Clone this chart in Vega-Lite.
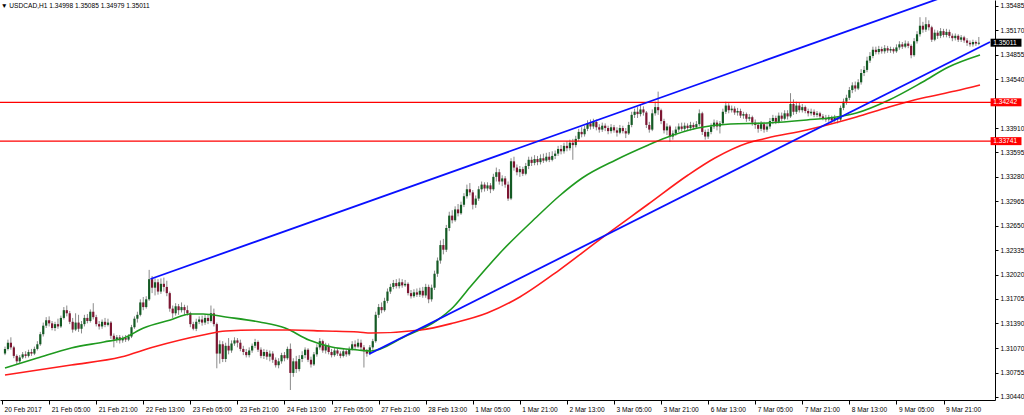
{
"$schema": "https://vega.github.io/schema/vega-lite/v6.json",
"width": 995,
"height": 400,
"autosize": {"type": "none"},
"padding": {"left": 0, "top": 0, "right": 29, "bottom": 15},
"background": "white",
"config": {"view": {"stroke": null}, "font": "Liberation Sans", "axis": {"labelOverlap": false, "labelFlush": false}},
"title": {"text": "▼ USDCAD,H1  1.34998 1.35085 1.34979 1.35011", "anchor": "start", "frame": "group", "orient": "top", "offset": 0, "baseline": "top", "dy": 10, "dx": 1, "fontSize": 6.6, "fontWeight": "normal", "color": "#000000", "font": "Liberation Sans"},
"datasets": {
"bars": [
{"i":1,"o":1.3100,"h":1.3109,"l":1.3098,"c":1.3106},
{"i":2,"o":1.3106,"h":1.3118,"l":1.3104,"c":1.3114},
{"i":3,"o":1.3114,"h":1.3121,"l":1.3105,"c":1.3108},
{"i":4,"o":1.3108,"h":1.3110,"l":1.3094,"c":1.3097},
{"i":5,"o":1.3097,"h":1.3099,"l":1.3086,"c":1.3090},
{"i":6,"o":1.3090,"h":1.3098,"l":1.3087,"c":1.3095},
{"i":7,"o":1.3095,"h":1.3102,"l":1.3093,"c":1.3099},
{"i":8,"o":1.3099,"h":1.3103,"l":1.3094,"c":1.3097},
{"i":9,"o":1.3097,"h":1.3105,"l":1.3095,"c":1.3102},
{"i":10,"o":1.3102,"h":1.3106,"l":1.3097,"c":1.3100},
{"i":11,"o":1.3100,"h":1.3109,"l":1.3098,"c":1.3106},
{"i":12,"o":1.3106,"h":1.3116,"l":1.3104,"c":1.3112},
{"i":13,"o":1.3112,"h":1.3128,"l":1.3110,"c":1.3125},
{"i":14,"o":1.3125,"h":1.3140,"l":1.3122,"c":1.3136},
{"i":15,"o":1.3136,"h":1.3147,"l":1.3133,"c":1.3143},
{"i":16,"o":1.3143,"h":1.3148,"l":1.3135,"c":1.3139},
{"i":17,"o":1.3139,"h":1.3142,"l":1.3130,"c":1.3133},
{"i":18,"o":1.3133,"h":1.3141,"l":1.3129,"c":1.3138},
{"i":19,"o":1.3138,"h":1.3145,"l":1.3132,"c":1.3135},
{"i":20,"o":1.3135,"h":1.3149,"l":1.3133,"c":1.3146},
{"i":21,"o":1.3146,"h":1.3160,"l":1.3144,"c":1.3156},
{"i":22,"o":1.3156,"h":1.3162,"l":1.3148,"c":1.3152},
{"i":23,"o":1.3152,"h":1.3155,"l":1.3138,"c":1.3141},
{"i":24,"o":1.3141,"h":1.3146,"l":1.3127,"c":1.3131},
{"i":25,"o":1.3131,"h":1.3152,"l":1.3129,"c":1.3140},
{"i":26,"o":1.3140,"h":1.3150,"l":1.3128,"c":1.3132},
{"i":27,"o":1.3132,"h":1.3142,"l":1.3126,"c":1.3138},
{"i":28,"o":1.3138,"h":1.3150,"l":1.3135,"c":1.3146},
{"i":29,"o":1.3146,"h":1.3151,"l":1.3139,"c":1.3142},
{"i":30,"o":1.3142,"h":1.3157,"l":1.3140,"c":1.3154},
{"i":31,"o":1.3154,"h":1.3165,"l":1.3144,"c":1.3147},
{"i":32,"o":1.3147,"h":1.3150,"l":1.3135,"c":1.3138},
{"i":33,"o":1.3138,"h":1.3142,"l":1.3131,"c":1.3135},
{"i":34,"o":1.3135,"h":1.3144,"l":1.3132,"c":1.3141},
{"i":35,"o":1.3141,"h":1.3146,"l":1.3134,"c":1.3137},
{"i":36,"o":1.3137,"h":1.3145,"l":1.3135,"c":1.3140},
{"i":37,"o":1.3140,"h":1.3142,"l":1.3119,"c":1.3123},
{"i":38,"o":1.3123,"h":1.3126,"l":1.3108,"c":1.3118},
{"i":39,"o":1.3118,"h":1.3124,"l":1.3114,"c":1.3121},
{"i":40,"o":1.3121,"h":1.3124,"l":1.3113,"c":1.3117},
{"i":41,"o":1.3117,"h":1.3123,"l":1.3114,"c":1.3120},
{"i":42,"o":1.3120,"h":1.3124,"l":1.3115,"c":1.3118},
{"i":43,"o":1.3118,"h":1.3125,"l":1.3116,"c":1.3122},
{"i":44,"o":1.3122,"h":1.3137,"l":1.3120,"c":1.3134},
{"i":45,"o":1.3134,"h":1.3148,"l":1.3132,"c":1.3145},
{"i":46,"o":1.3145,"h":1.3154,"l":1.3140,"c":1.3150},
{"i":47,"o":1.3150,"h":1.3170,"l":1.3148,"c":1.3166},
{"i":48,"o":1.3166,"h":1.3173,"l":1.3156,"c":1.3160},
{"i":49,"o":1.3160,"h":1.3174,"l":1.3158,"c":1.3170},
{"i":50,"o":1.3170,"h":1.3208,"l":1.3168,"c":1.3196},
{"i":51,"o":1.3196,"h":1.3200,"l":1.3178,"c":1.3185},
{"i":52,"o":1.3185,"h":1.3197,"l":1.3175,"c":1.3192},
{"i":53,"o":1.3192,"h":1.3196,"l":1.3176,"c":1.3180},
{"i":54,"o":1.3180,"h":1.3197,"l":1.3177,"c":1.3190},
{"i":55,"o":1.3190,"h":1.3198,"l":1.3180,"c":1.3186},
{"i":56,"o":1.3186,"h":1.3194,"l":1.3174,"c":1.3178},
{"i":57,"o":1.3178,"h":1.3180,"l":1.3154,"c":1.3158},
{"i":58,"o":1.3158,"h":1.3162,"l":1.3146,"c":1.3152},
{"i":59,"o":1.3152,"h":1.3165,"l":1.3149,"c":1.3161},
{"i":60,"o":1.3161,"h":1.3164,"l":1.3150,"c":1.3156},
{"i":61,"o":1.3156,"h":1.3166,"l":1.3153,"c":1.3160},
{"i":62,"o":1.3160,"h":1.3163,"l":1.3150,"c":1.3156},
{"i":63,"o":1.3156,"h":1.3162,"l":1.3149,"c":1.3152},
{"i":64,"o":1.3152,"h":1.3154,"l":1.3134,"c":1.3138},
{"i":65,"o":1.3138,"h":1.3141,"l":1.3130,"c":1.3132},
{"i":66,"o":1.3132,"h":1.3145,"l":1.3129,"c":1.3141},
{"i":67,"o":1.3141,"h":1.3148,"l":1.3138,"c":1.3144},
{"i":68,"o":1.3144,"h":1.3149,"l":1.3136,"c":1.3140},
{"i":69,"o":1.3140,"h":1.3150,"l":1.3137,"c":1.3146},
{"i":70,"o":1.3146,"h":1.3151,"l":1.3138,"c":1.3142},
{"i":71,"o":1.3142,"h":1.3162,"l":1.3140,"c":1.3152},
{"i":72,"o":1.3152,"h":1.3158,"l":1.3135,"c":1.3138},
{"i":73,"o":1.3138,"h":1.3140,"l":1.3081,"c":1.3100},
{"i":74,"o":1.3100,"h":1.3117,"l":1.3087,"c":1.3112},
{"i":75,"o":1.3112,"h":1.3116,"l":1.3089,"c":1.3093},
{"i":76,"o":1.3093,"h":1.3114,"l":1.3089,"c":1.3110},
{"i":77,"o":1.3110,"h":1.3120,"l":1.3099,"c":1.3104},
{"i":78,"o":1.3104,"h":1.3117,"l":1.3101,"c":1.3113},
{"i":79,"o":1.3113,"h":1.3121,"l":1.3110,"c":1.3117},
{"i":80,"o":1.3117,"h":1.3120,"l":1.3108,"c":1.3114},
{"i":81,"o":1.3114,"h":1.3118,"l":1.3103,"c":1.3106},
{"i":82,"o":1.3106,"h":1.3110,"l":1.3098,"c":1.3102},
{"i":83,"o":1.3102,"h":1.3106,"l":1.3095,"c":1.3098},
{"i":84,"o":1.3098,"h":1.3108,"l":1.3095,"c":1.3104},
{"i":85,"o":1.3104,"h":1.3113,"l":1.3101,"c":1.3110},
{"i":86,"o":1.3110,"h":1.3119,"l":1.3107,"c":1.3115},
{"i":87,"o":1.3115,"h":1.3117,"l":1.3102,"c":1.3105},
{"i":88,"o":1.3105,"h":1.3108,"l":1.3094,"c":1.3097},
{"i":89,"o":1.3097,"h":1.3106,"l":1.3093,"c":1.3102},
{"i":90,"o":1.3102,"h":1.3105,"l":1.3092,"c":1.3096},
{"i":91,"o":1.3096,"h":1.3104,"l":1.3090,"c":1.3100},
{"i":92,"o":1.3100,"h":1.3103,"l":1.3088,"c":1.3092},
{"i":93,"o":1.3092,"h":1.3095,"l":1.3082,"c":1.3085},
{"i":94,"o":1.3085,"h":1.3094,"l":1.3081,"c":1.3090},
{"i":95,"o":1.3090,"h":1.3101,"l":1.3087,"c":1.3098},
{"i":96,"o":1.3098,"h":1.3102,"l":1.3090,"c":1.3094},
{"i":97,"o":1.3094,"h":1.3109,"l":1.3092,"c":1.3106},
{"i":98,"o":1.3106,"h":1.3113,"l":1.3053,"c":1.3075},
{"i":99,"o":1.3075,"h":1.3094,"l":1.3070,"c":1.3090},
{"i":100,"o":1.3090,"h":1.3097,"l":1.3075,"c":1.3080},
{"i":101,"o":1.3080,"h":1.3098,"l":1.3077,"c":1.3093},
{"i":102,"o":1.3093,"h":1.3103,"l":1.3089,"c":1.3098},
{"i":103,"o":1.3098,"h":1.3108,"l":1.3094,"c":1.3105},
{"i":104,"o":1.3105,"h":1.3107,"l":1.3089,"c":1.3092},
{"i":105,"o":1.3092,"h":1.3096,"l":1.3082,"c":1.3086},
{"i":106,"o":1.3086,"h":1.3102,"l":1.3084,"c":1.3099},
{"i":107,"o":1.3099,"h":1.3112,"l":1.3096,"c":1.3108},
{"i":108,"o":1.3108,"h":1.3120,"l":1.3105,"c":1.3116},
{"i":109,"o":1.3116,"h":1.3118,"l":1.3101,"c":1.3104},
{"i":110,"o":1.3104,"h":1.3114,"l":1.3100,"c":1.3110},
{"i":111,"o":1.3110,"h":1.3113,"l":1.3099,"c":1.3102},
{"i":112,"o":1.3102,"h":1.3106,"l":1.3095,"c":1.3098},
{"i":113,"o":1.3098,"h":1.3107,"l":1.3096,"c":1.3104},
{"i":114,"o":1.3104,"h":1.3107,"l":1.3097,"c":1.3100},
{"i":115,"o":1.3100,"h":1.3103,"l":1.3094,"c":1.3097},
{"i":116,"o":1.3097,"h":1.3106,"l":1.3095,"c":1.3103},
{"i":117,"o":1.3103,"h":1.3106,"l":1.3096,"c":1.3099},
{"i":118,"o":1.3099,"h":1.3109,"l":1.3097,"c":1.3106},
{"i":119,"o":1.3106,"h":1.3116,"l":1.3104,"c":1.3112},
{"i":120,"o":1.3112,"h":1.3117,"l":1.3106,"c":1.3109},
{"i":121,"o":1.3109,"h":1.3119,"l":1.3107,"c":1.3114},
{"i":122,"o":1.3114,"h":1.3118,"l":1.3104,"c":1.3108},
{"i":123,"o":1.3108,"h":1.3111,"l":1.3082,"c":1.3103},
{"i":124,"o":1.3103,"h":1.3106,"l":1.3096,"c":1.3100},
{"i":125,"o":1.3100,"h":1.3111,"l":1.3098,"c":1.3108},
{"i":126,"o":1.3108,"h":1.3119,"l":1.3105,"c":1.3116},
{"i":127,"o":1.3116,"h":1.3154,"l":1.3114,"c":1.3150},
{"i":128,"o":1.3150,"h":1.3164,"l":1.3146,"c":1.3160},
{"i":129,"o":1.3160,"h":1.3166,"l":1.3152,"c":1.3156},
{"i":130,"o":1.3156,"h":1.3172,"l":1.3154,"c":1.3168},
{"i":131,"o":1.3168,"h":1.3184,"l":1.3165,"c":1.3180},
{"i":132,"o":1.3180,"h":1.3190,"l":1.3177,"c":1.3186},
{"i":133,"o":1.3186,"h":1.3195,"l":1.3183,"c":1.3191},
{"i":134,"o":1.3191,"h":1.3196,"l":1.3184,"c":1.3187},
{"i":135,"o":1.3187,"h":1.3197,"l":1.3184,"c":1.3192},
{"i":136,"o":1.3192,"h":1.3196,"l":1.3185,"c":1.3188},
{"i":137,"o":1.3188,"h":1.3195,"l":1.3186,"c":1.3190},
{"i":138,"o":1.3190,"h":1.3192,"l":1.3175,"c":1.3178},
{"i":139,"o":1.3178,"h":1.3182,"l":1.3171,"c":1.3174},
{"i":140,"o":1.3174,"h":1.3183,"l":1.3172,"c":1.3179},
{"i":141,"o":1.3179,"h":1.3184,"l":1.3173,"c":1.3176},
{"i":142,"o":1.3176,"h":1.3185,"l":1.3173,"c":1.3181},
{"i":143,"o":1.3181,"h":1.3186,"l":1.3172,"c":1.3175},
{"i":144,"o":1.3175,"h":1.3190,"l":1.3172,"c":1.3186},
{"i":145,"o":1.3186,"h":1.3189,"l":1.3165,"c":1.3170},
{"i":146,"o":1.3170,"h":1.3189,"l":1.3167,"c":1.3185},
{"i":147,"o":1.3185,"h":1.3207,"l":1.3182,"c":1.3203},
{"i":148,"o":1.3203,"h":1.3224,"l":1.3199,"c":1.3220},
{"i":149,"o":1.3220,"h":1.3246,"l":1.3216,"c":1.3240},
{"i":150,"o":1.3240,"h":1.3248,"l":1.3228,"c":1.3234},
{"i":151,"o":1.3234,"h":1.3266,"l":1.3231,"c":1.3262},
{"i":152,"o":1.3262,"h":1.3283,"l":1.3258,"c":1.3278},
{"i":153,"o":1.3278,"h":1.3285,"l":1.3268,"c":1.3272},
{"i":154,"o":1.3272,"h":1.3290,"l":1.3270,"c":1.3286},
{"i":155,"o":1.3286,"h":1.3293,"l":1.3277,"c":1.3281},
{"i":156,"o":1.3281,"h":1.3296,"l":1.3279,"c":1.3292},
{"i":157,"o":1.3292,"h":1.3307,"l":1.3289,"c":1.3303},
{"i":158,"o":1.3303,"h":1.3318,"l":1.3300,"c":1.3312},
{"i":159,"o":1.3312,"h":1.3320,"l":1.3304,"c":1.3308},
{"i":160,"o":1.3308,"h":1.3311,"l":1.3286,"c":1.3292},
{"i":161,"o":1.3292,"h":1.3304,"l":1.3288,"c":1.3300},
{"i":162,"o":1.3300,"h":1.3316,"l":1.3297,"c":1.3312},
{"i":163,"o":1.3312,"h":1.3322,"l":1.3308,"c":1.3318},
{"i":164,"o":1.3318,"h":1.3321,"l":1.3309,"c":1.3313},
{"i":165,"o":1.3313,"h":1.3321,"l":1.3310,"c":1.3317},
{"i":166,"o":1.3317,"h":1.3320,"l":1.3307,"c":1.3312},
{"i":167,"o":1.3312,"h":1.3332,"l":1.3310,"c":1.3328},
{"i":168,"o":1.3328,"h":1.3340,"l":1.3322,"c":1.3334},
{"i":169,"o":1.3334,"h":1.3338,"l":1.3318,"c":1.3322},
{"i":170,"o":1.3322,"h":1.3330,"l":1.3316,"c":1.3326},
{"i":171,"o":1.3326,"h":1.3329,"l":1.3314,"c":1.3318},
{"i":172,"o":1.3318,"h":1.3322,"l":1.3297,"c":1.3300},
{"i":173,"o":1.3300,"h":1.3352,"l":1.3298,"c":1.3348},
{"i":174,"o":1.3348,"h":1.3354,"l":1.3336,"c":1.3340},
{"i":175,"o":1.3340,"h":1.3344,"l":1.3330,"c":1.3334},
{"i":176,"o":1.3334,"h":1.3342,"l":1.3328,"c":1.3338},
{"i":177,"o":1.3338,"h":1.3341,"l":1.3329,"c":1.3332},
{"i":178,"o":1.3332,"h":1.3346,"l":1.3330,"c":1.3342},
{"i":179,"o":1.3342,"h":1.3354,"l":1.3338,"c":1.3350},
{"i":180,"o":1.3350,"h":1.3354,"l":1.3342,"c":1.3346},
{"i":181,"o":1.3346,"h":1.3356,"l":1.3343,"c":1.3351},
{"i":182,"o":1.3351,"h":1.3355,"l":1.3343,"c":1.3347},
{"i":183,"o":1.3347,"h":1.3357,"l":1.3344,"c":1.3352},
{"i":184,"o":1.3352,"h":1.3358,"l":1.3346,"c":1.3349},
{"i":185,"o":1.3349,"h":1.3359,"l":1.3347,"c":1.3354},
{"i":186,"o":1.3354,"h":1.3360,"l":1.3347,"c":1.3350},
{"i":187,"o":1.3350,"h":1.3361,"l":1.3348,"c":1.3355},
{"i":188,"o":1.3355,"h":1.3362,"l":1.3351,"c":1.3358},
{"i":189,"o":1.3358,"h":1.3368,"l":1.3355,"c":1.3364},
{"i":190,"o":1.3364,"h":1.3369,"l":1.3357,"c":1.3361},
{"i":191,"o":1.3361,"h":1.3372,"l":1.3358,"c":1.3368},
{"i":192,"o":1.3368,"h":1.3374,"l":1.3361,"c":1.3365},
{"i":193,"o":1.3365,"h":1.3376,"l":1.3362,"c":1.3372},
{"i":194,"o":1.3372,"h":1.3377,"l":1.3350,"c":1.3369},
{"i":195,"o":1.3369,"h":1.3381,"l":1.3366,"c":1.3377},
{"i":196,"o":1.3377,"h":1.3390,"l":1.3374,"c":1.3386},
{"i":197,"o":1.3386,"h":1.3392,"l":1.3379,"c":1.3383},
{"i":198,"o":1.3383,"h":1.3394,"l":1.3380,"c":1.3390},
{"i":199,"o":1.3390,"h":1.3401,"l":1.3387,"c":1.3397},
{"i":200,"o":1.3397,"h":1.3402,"l":1.3389,"c":1.3393},
{"i":201,"o":1.3393,"h":1.3403,"l":1.3390,"c":1.3399},
{"i":202,"o":1.3399,"h":1.3402,"l":1.3388,"c":1.3392},
{"i":203,"o":1.3392,"h":1.3396,"l":1.3385,"c":1.3389},
{"i":204,"o":1.3389,"h":1.3398,"l":1.3386,"c":1.3394},
{"i":205,"o":1.3394,"h":1.3397,"l":1.3387,"c":1.3391},
{"i":206,"o":1.3391,"h":1.3394,"l":1.3383,"c":1.3387},
{"i":207,"o":1.3387,"h":1.3396,"l":1.3384,"c":1.3392},
{"i":208,"o":1.3392,"h":1.3395,"l":1.3385,"c":1.3388},
{"i":209,"o":1.3388,"h":1.3392,"l":1.3380,"c":1.3385},
{"i":210,"o":1.3385,"h":1.3395,"l":1.3383,"c":1.3391},
{"i":211,"o":1.3391,"h":1.3394,"l":1.3384,"c":1.3387},
{"i":212,"o":1.3387,"h":1.3391,"l":1.3378,"c":1.3384},
{"i":213,"o":1.3384,"h":1.3399,"l":1.3382,"c":1.3395},
{"i":214,"o":1.3395,"h":1.3412,"l":1.3392,"c":1.3408},
{"i":215,"o":1.3408,"h":1.3416,"l":1.3404,"c":1.3412},
{"i":216,"o":1.3412,"h":1.3418,"l":1.3404,"c":1.3409},
{"i":217,"o":1.3409,"h":1.3422,"l":1.3406,"c":1.3415},
{"i":218,"o":1.3415,"h":1.3419,"l":1.3407,"c":1.3411},
{"i":219,"o":1.3411,"h":1.3413,"l":1.3391,"c":1.3395},
{"i":220,"o":1.3395,"h":1.3399,"l":1.3385,"c":1.3389},
{"i":221,"o":1.3389,"h":1.3415,"l":1.3387,"c":1.3410},
{"i":222,"o":1.3410,"h":1.3425,"l":1.3407,"c":1.3418},
{"i":223,"o":1.3418,"h":1.3438,"l":1.3408,"c":1.3414},
{"i":224,"o":1.3414,"h":1.3416,"l":1.3396,"c":1.3400},
{"i":225,"o":1.3400,"h":1.3403,"l":1.3384,"c":1.3388},
{"i":226,"o":1.3388,"h":1.3397,"l":1.3382,"c":1.3393},
{"i":227,"o":1.3393,"h":1.3395,"l":1.3373,"c":1.3380},
{"i":228,"o":1.3380,"h":1.3388,"l":1.3376,"c":1.3384},
{"i":229,"o":1.3384,"h":1.3393,"l":1.3381,"c":1.3389},
{"i":230,"o":1.3389,"h":1.3397,"l":1.3386,"c":1.3393},
{"i":231,"o":1.3393,"h":1.3398,"l":1.3387,"c":1.3390},
{"i":232,"o":1.3390,"h":1.3398,"l":1.3387,"c":1.3394},
{"i":233,"o":1.3394,"h":1.3397,"l":1.3388,"c":1.3391},
{"i":234,"o":1.3391,"h":1.3399,"l":1.3388,"c":1.3395},
{"i":235,"o":1.3395,"h":1.3398,"l":1.3389,"c":1.3392},
{"i":236,"o":1.3392,"h":1.3400,"l":1.3390,"c":1.3396},
{"i":237,"o":1.3396,"h":1.3415,"l":1.3393,"c":1.3410},
{"i":238,"o":1.3410,"h":1.3412,"l":1.3382,"c":1.3386},
{"i":239,"o":1.3386,"h":1.3389,"l":1.3376,"c":1.3380},
{"i":240,"o":1.3380,"h":1.3390,"l":1.3377,"c":1.3386},
{"i":241,"o":1.3386,"h":1.3397,"l":1.3383,"c":1.3393},
{"i":242,"o":1.3393,"h":1.3402,"l":1.3390,"c":1.3398},
{"i":243,"o":1.3398,"h":1.3401,"l":1.3388,"c":1.3393},
{"i":244,"o":1.3393,"h":1.3400,"l":1.3384,"c":1.3397},
{"i":245,"o":1.3397,"h":1.3416,"l":1.3395,"c":1.3412},
{"i":246,"o":1.3412,"h":1.3425,"l":1.3409,"c":1.3420},
{"i":247,"o":1.3420,"h":1.3423,"l":1.3410,"c":1.3414},
{"i":248,"o":1.3414,"h":1.3420,"l":1.3411,"c":1.3416},
{"i":249,"o":1.3416,"h":1.3419,"l":1.3408,"c":1.3411},
{"i":250,"o":1.3411,"h":1.3417,"l":1.3407,"c":1.3413},
{"i":251,"o":1.3413,"h":1.3416,"l":1.3404,"c":1.3407},
{"i":252,"o":1.3407,"h":1.3412,"l":1.3403,"c":1.3409},
{"i":253,"o":1.3409,"h":1.3411,"l":1.3399,"c":1.3403},
{"i":254,"o":1.3403,"h":1.3409,"l":1.3400,"c":1.3405},
{"i":255,"o":1.3405,"h":1.3407,"l":1.3394,"c":1.3398},
{"i":256,"o":1.3398,"h":1.3402,"l":1.3390,"c":1.3395},
{"i":257,"o":1.3395,"h":1.3398,"l":1.3385,"c":1.3390},
{"i":258,"o":1.3390,"h":1.3400,"l":1.3387,"c":1.3396},
{"i":259,"o":1.3396,"h":1.3399,"l":1.3385,"c":1.3389},
{"i":260,"o":1.3389,"h":1.3398,"l":1.3386,"c":1.3393},
{"i":261,"o":1.3393,"h":1.3404,"l":1.3390,"c":1.3400},
{"i":262,"o":1.3400,"h":1.3408,"l":1.3396,"c":1.3404},
{"i":263,"o":1.3404,"h":1.3407,"l":1.3396,"c":1.3399},
{"i":264,"o":1.3399,"h":1.3411,"l":1.3397,"c":1.3407},
{"i":265,"o":1.3407,"h":1.3411,"l":1.3400,"c":1.3403},
{"i":266,"o":1.3403,"h":1.3414,"l":1.3401,"c":1.3410},
{"i":267,"o":1.3410,"h":1.3414,"l":1.3402,"c":1.3406},
{"i":268,"o":1.3406,"h":1.3436,"l":1.3404,"c":1.3422},
{"i":269,"o":1.3422,"h":1.3428,"l":1.3408,"c":1.3412},
{"i":270,"o":1.3412,"h":1.3425,"l":1.3409,"c":1.3420},
{"i":271,"o":1.3420,"h":1.3424,"l":1.3411,"c":1.3414},
{"i":272,"o":1.3414,"h":1.3422,"l":1.3411,"c":1.3418},
{"i":273,"o":1.3418,"h":1.3420,"l":1.3410,"c":1.3413},
{"i":274,"o":1.3413,"h":1.3416,"l":1.3406,"c":1.3410},
{"i":275,"o":1.3410,"h":1.3416,"l":1.3407,"c":1.3412},
{"i":276,"o":1.3412,"h":1.3415,"l":1.3405,"c":1.3408},
{"i":277,"o":1.3408,"h":1.3413,"l":1.3405,"c":1.3410},
{"i":278,"o":1.3410,"h":1.3412,"l":1.3403,"c":1.3406},
{"i":279,"o":1.3406,"h":1.3409,"l":1.3401,"c":1.3404},
{"i":280,"o":1.3404,"h":1.3408,"l":1.3399,"c":1.3402},
{"i":281,"o":1.3402,"h":1.3408,"l":1.3399,"c":1.3405},
{"i":282,"o":1.3405,"h":1.3407,"l":1.3398,"c":1.3401},
{"i":283,"o":1.3401,"h":1.3408,"l":1.3399,"c":1.3404},
{"i":284,"o":1.3404,"h":1.3406,"l":1.3397,"c":1.3402},
{"i":285,"o":1.3402,"h":1.3420,"l":1.3400,"c":1.3417},
{"i":286,"o":1.3417,"h":1.3429,"l":1.3414,"c":1.3425},
{"i":287,"o":1.3425,"h":1.3434,"l":1.3421,"c":1.3430},
{"i":288,"o":1.3430,"h":1.3444,"l":1.3427,"c":1.3440},
{"i":289,"o":1.3440,"h":1.3450,"l":1.3436,"c":1.3446},
{"i":290,"o":1.3446,"h":1.3451,"l":1.3438,"c":1.3442},
{"i":291,"o":1.3442,"h":1.3454,"l":1.3440,"c":1.3450},
{"i":292,"o":1.3450,"h":1.3467,"l":1.3447,"c":1.3462},
{"i":293,"o":1.3462,"h":1.3471,"l":1.3458,"c":1.3466},
{"i":294,"o":1.3466,"h":1.3483,"l":1.3463,"c":1.3478},
{"i":295,"o":1.3478,"h":1.3489,"l":1.3475,"c":1.3484},
{"i":296,"o":1.3484,"h":1.3496,"l":1.3481,"c":1.3492},
{"i":297,"o":1.3492,"h":1.3496,"l":1.3486,"c":1.3489},
{"i":298,"o":1.3489,"h":1.3497,"l":1.3486,"c":1.3493},
{"i":299,"o":1.3493,"h":1.3496,"l":1.3487,"c":1.3490},
{"i":300,"o":1.3490,"h":1.3498,"l":1.3487,"c":1.3494},
{"i":301,"o":1.3494,"h":1.3497,"l":1.3488,"c":1.3491},
{"i":302,"o":1.3491,"h":1.3496,"l":1.3488,"c":1.3493},
{"i":303,"o":1.3493,"h":1.3495,"l":1.3487,"c":1.3490},
{"i":304,"o":1.3490,"h":1.3499,"l":1.3488,"c":1.3495},
{"i":305,"o":1.3495,"h":1.3503,"l":1.3492,"c":1.3499},
{"i":306,"o":1.3499,"h":1.3502,"l":1.3493,"c":1.3496},
{"i":307,"o":1.3496,"h":1.3504,"l":1.3494,"c":1.3500},
{"i":308,"o":1.3500,"h":1.3503,"l":1.3494,"c":1.3497},
{"i":309,"o":1.3497,"h":1.3499,"l":1.3481,"c":1.3485},
{"i":310,"o":1.3485,"h":1.3507,"l":1.3483,"c":1.3503},
{"i":311,"o":1.3503,"h":1.3516,"l":1.3500,"c":1.3512},
{"i":312,"o":1.3512,"h":1.3534,"l":1.3509,"c":1.3523},
{"i":313,"o":1.3523,"h":1.3528,"l":1.3514,"c":1.3518},
{"i":314,"o":1.3518,"h":1.3534,"l":1.3515,"c":1.3525},
{"i":315,"o":1.3525,"h":1.3530,"l":1.3517,"c":1.3521},
{"i":316,"o":1.3521,"h":1.3523,"l":1.3502,"c":1.3505},
{"i":317,"o":1.3505,"h":1.3518,"l":1.3503,"c":1.3514},
{"i":318,"o":1.3514,"h":1.3517,"l":1.3506,"c":1.3510},
{"i":319,"o":1.3510,"h":1.3520,"l":1.3507,"c":1.3516},
{"i":320,"o":1.3516,"h":1.3519,"l":1.3508,"c":1.3511},
{"i":321,"o":1.3511,"h":1.3519,"l":1.3508,"c":1.3515},
{"i":322,"o":1.3515,"h":1.3518,"l":1.3507,"c":1.3510},
{"i":323,"o":1.3510,"h":1.3513,"l":1.3503,"c":1.3507},
{"i":324,"o":1.3507,"h":1.3513,"l":1.3504,"c":1.3510},
{"i":325,"o":1.3510,"h":1.3512,"l":1.3502,"c":1.3505},
{"i":326,"o":1.3505,"h":1.3511,"l":1.3502,"c":1.3508},
{"i":327,"o":1.3508,"h":1.3510,"l":1.3501,"c":1.3504},
{"i":328,"o":1.3504,"h":1.3507,"l":1.3497,"c":1.3501},
{"i":329,"o":1.3501,"h":1.3504,"l":1.3496,"c":1.3499},
{"i":330,"o":1.3499,"h":1.3505,"l":1.3496,"c":1.3502},
{"i":331,"o":1.3502,"h":1.3504,"l":1.3497,"c":1.3500},
{"i":332,"o":1.34998,"h":1.35085,"l":1.34979,"c":1.35011}
],
"ma": [
{"s":"g","i":1,"p":1.30814},{"s":"g","i":12,"p":1.30943},{"s":"g","i":23.5,"p":1.31072},{"s":"g","i":34.6,"p":1.3115},{"s":"g","i":41.4,"p":1.31201},{"s":"g","i":48.1,"p":1.3133},{"s":"g","i":57.2,"p":1.31433},{"s":"g","i":63.9,"p":1.31511},{"s":"g","i":68.3,"p":1.31511},{"s":"g","i":76,"p":1.31472},{"s":"g","i":87.5,"p":1.31407},{"s":"g","i":96.2,"p":1.3133},{"s":"g","i":104.3,"p":1.31175},{"s":"g","i":112,"p":1.31085},{"s":"g","i":121,"p":1.31046},{"s":"g","i":125.5,"p":1.31033},{"s":"g","i":136.6,"p":1.31214},{"s":"g","i":148,"p":1.31433},{"s":"g","i":153.4,"p":1.31601},{"s":"g","i":159.1,"p":1.31859},{"s":"g","i":170.2,"p":1.32336},{"s":"g","i":181.7,"p":1.32762},{"s":"g","i":189.4,"p":1.33033},{"s":"g","i":197.2,"p":1.33265},{"s":"g","i":208.6,"p":1.33498},{"s":"g","i":219.7,"p":1.33691},{"s":"g","i":225.4,"p":1.33781},{"s":"g","i":236.5,"p":1.3391},{"s":"g","i":247.6,"p":1.33962},{"s":"g","i":260.1,"p":1.33975},{"s":"g","i":273.5,"p":1.34014},{"s":"g","i":283.6,"p":1.34052},{"s":"g","i":290.4,"p":1.34104},{"s":"g","i":301.5,"p":1.34272},{"s":"g","i":312.9,"p":1.34504},{"s":"g","i":321.7,"p":1.34697},{"s":"g","i":332.4,"p":1.34852},
{"s":"r","i":1,"p":1.30723},{"s":"r","i":23.5,"p":1.30852},{"s":"r","i":40.4,"p":1.30956},{"s":"r","i":51.5,"p":1.31085},{"s":"r","i":68.3,"p":1.3124},{"s":"r","i":76,"p":1.31291},{"s":"r","i":87.5,"p":1.31304},{"s":"r","i":98.6,"p":1.31304},{"s":"r","i":109.7,"p":1.31291},{"s":"r","i":121,"p":1.31278},{"s":"r","i":125.5,"p":1.31265},{"s":"r","i":142.3,"p":1.31304},{"s":"r","i":153.4,"p":1.31394},{"s":"r","i":164.9,"p":1.31523},{"s":"r","i":176,"p":1.3173},{"s":"r","i":189.4,"p":1.32078},{"s":"r","i":202.9,"p":1.32465},{"s":"r","i":219.7,"p":1.3293},{"s":"r","i":233.2,"p":1.33304},{"s":"r","i":242.3,"p":1.33523},{"s":"r","i":253.4,"p":1.33717},{"s":"r","i":260.1,"p":1.33781},{"s":"r","i":273.5,"p":1.33885},{"s":"r","i":290.4,"p":1.34052},{"s":"r","i":301.5,"p":1.34181},{"s":"r","i":312.9,"p":1.34297},{"s":"r","i":324,"p":1.34388},{"s":"r","i":332.4,"p":1.34465}
],
"trend": [
{"k":"upper","i":50.46,"p":1.31962},{"k":"upper","i":335.8,"p":1.35814},
{"k":"lower","i":124.8,"p":1.30994},{"k":"lower","i":335.8,"p":1.3502}
],
"levels": [{"p":1.34242},{"p":1.33741}],
"last": [{"p":1.35011}]
},
"layer": [
{
"data": {"name": "bars"},
"mark": {"type": "rule", "color": "#8a8a8a", "strokeWidth": 1},
"encoding": {
"x": {"field": "i", "type": "quantitative", "scale": {"domain": [1, 335.8], "nice": false, "zero": false},
"axis": {"orient": "bottom", "title": null, "grid": false, "tickCount": 60, "values": [0,16,32,48,64,80,96,112,128,144,160,176,192,208,224,240,256,272,288,304,320],
"labelExpr": "['20 Feb 2017','21 Feb 05:00','21 Feb 21:00','22 Feb 13:00','23 Feb 05:00','23 Feb 21:00','24 Feb 13:00','27 Feb 05:00','27 Feb 21:00','28 Feb 13:00','1 Mar 05:00','1 Mar 21:00','2 Mar 13:00','3 Mar 05:00','3 Mar 21:00','6 Mar 13:00','7 Mar 05:00','7 Mar 21:00','8 Mar 13:00','9 Mar 05:00','9 Mar 21:00'][round(datum.value/16)]",
"labelAlign": "left", "labelBaseline": "top", "labelOffset": 2, "labelPadding": 2, "labelFlush": false, "labelOverlap": false, "labelBound": false,
"tickSize": 4, "tickColor": "#000000", "domainColor": "#000000", "domainWidth": 1, "labelFontSize": 6.6, "labelColor": "#000000", "labelFont": "Liberation Sans"}},
"y": {"field": "l", "type": "quantitative", "scale": {"domain": [1.30401, 1.35562], "nice": false, "zero": false},
"axis": {"orient": "right", "title": null, "grid": false, "tickCount": 60, "values": [1.35485,1.3517,1.34855,1.3454,1.3391,1.33595,1.3328,1.32965,1.3265,1.32335,1.3202,1.31705,1.3139,1.3107,1.30755,1.3044],
"format": ".5f", "labelAlign": "left", "labelBaseline": "middle", "labelPadding": 2, "labelFlush": false, "labelOverlap": false, "labelBound": false,
"tickSize": 3, "tickColor": "#000000", "domainColor": "#000000", "domainWidth": 1, "labelFontSize": 6.6, "labelColor": "#000000", "labelFont": "Liberation Sans"}},
"y2": {"field": "h"}
}
},
{
"data": {"name": "bars"},
"mark": {"type": "bar", "width": 2.2},
"encoding": {
"x": {"field": "i", "type": "quantitative"},
"y": {"field": "o", "type": "quantitative"},
"y2": {"field": "c"},
"color": {"condition": {"test": "datum.c >= datum.o", "value": "#145a24"}, "value": "#7c1632"}
}
},
{
"data": {"name": "ma"},
"mark": {"type": "line", "strokeWidth": 1.6, "interpolate": "monotone"},
"encoding": {
"x": {"field": "i", "type": "quantitative"},
"y": {"field": "p", "type": "quantitative"},
"color": {"field": "s", "type": "nominal", "scale": {"domain": ["g", "r"], "range": ["#1f9a1f", "#ff1c1c"]}, "legend": null}
}
},
{
"data": {"name": "levels"},
"mark": {"type": "rule", "color": "#ff0000", "strokeWidth": 1.3},
"encoding": {"y": {"field": "p", "type": "quantitative"}}
},
{
"data": {"name": "trend"},
"mark": {"type": "line", "color": "#0a10ff", "strokeWidth": 1.8, "clip": true},
"encoding": {
"x": {"field": "i", "type": "quantitative"},
"y": {"field": "p", "type": "quantitative"},
"detail": {"field": "k", "type": "nominal"}
}
},
{
"data": {"name": "levels"},
"mark": {"type": "rule", "color": "#ff0000", "strokeWidth": 8},
"encoding": {"x": {"datum": 336.0}, "x2": {"datum": 346.5}, "y": {"field": "p", "type": "quantitative"}}
},
{
"data": {"name": "last"},
"mark": {"type": "rule", "color": "#000000", "strokeWidth": 8},
"encoding": {"x": {"datum": 336.0}, "x2": {"datum": 346.5}, "y": {"field": "p", "type": "quantitative"}}
},
{
"data": {"name": "levels"},
"mark": {"type": "text", "color": "#ffffff", "align": "left", "baseline": "middle", "fontSize": 6.6, "font": "Liberation Sans"},
"encoding": {"x": {"datum": 336.9}, "y": {"field": "p", "type": "quantitative"}, "text": {"field": "p", "type": "quantitative", "format": ".5f"}}
},
{
"data": {"name": "last"},
"mark": {"type": "text", "color": "#ffffff", "align": "left", "baseline": "middle", "fontSize": 6.6, "font": "Liberation Sans"},
"encoding": {"x": {"datum": 336.9}, "y": {"field": "p", "type": "quantitative"}, "text": {"field": "p", "type": "quantitative", "format": ".5f"}}
}
]
}
